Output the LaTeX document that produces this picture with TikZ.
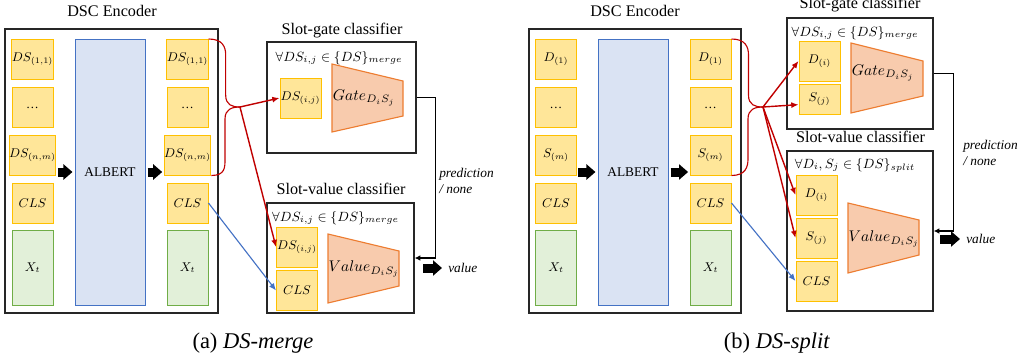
\RequirePackage{fix-cm}
\documentclass[tikz,border=0pt]{standalone}
\usepackage{fontspec}
\setmainfont{Liberation Serif}
\usetikzlibrary{arrows.meta,calc}

\definecolor{tokfill}{HTML}{FFE699}
\definecolor{tokline}{HTML}{FFC000}
\definecolor{xfill}{HTML}{E2F0D9}
\definecolor{xline}{HTML}{70AD47}
\definecolor{bertfill}{HTML}{DAE3F3}
\definecolor{bertline}{HTML}{4472C4}
\definecolor{trapfill}{HTML}{F8CBAD}
\definecolor{trapline}{HTML}{ED7D31}
\definecolor{bracered}{HTML}{C00000}
\definecolor{clsblue}{HTML}{4472C4}

\tikzset{
  tok/.style={draw=tokline, fill=tokfill, line width=0.7pt, minimum width=1.025cm,
    minimum height=1cm, inner sep=0pt, font=\fontsize{9}{10}\selectfont},
  xtok/.style={tok, draw=xline, fill=xfill, minimum height=1.875cm},
  bert/.style={draw=bertline, fill=bertfill, line width=0.6pt, minimum width=1.75cm,
    minimum height=6.65cm, font=\fontsize{9.5}{11}\selectfont},
  panel/.style={draw=black!85, line width=0.9pt, inner sep=0pt},
  headline/.style={anchor=base, inner sep=0pt, font=\fontsize{11.5}{13}\selectfont},
  cond/.style={inner sep=0pt, font=\fontsize{9.5}{11}\selectfont},
  traptxt/.style={inner sep=0pt, font=\fontsize{11}{12}\selectfont},
  trap/.style={draw=trapline, fill=trapfill, line width=0.8pt},
  note/.style={inner sep=0pt, align=left, anchor=west, font=\fontsize{9.5}{11}\selectfont\itshape},
  outtxt/.style={inner sep=0.15cm, anchor=west, font=\fontsize{9.5}{11}\selectfont\itshape},
  subcap/.style={anchor=base, inner sep=0pt, font=\fontsize{16}{18}\selectfont},
  bracepath/.style={draw=bracered, line width=0.8pt},
  redarrow/.style={draw=bracered, line width=1pt, -{Latex[length=1.8mm,width=1.5mm]}},
  bluearrow/.style={draw=clsblue, line width=0.8pt, -{Latex[length=1.8mm,width=1.5mm]}},
  fbline/.style={draw=black, line width=1.1pt, -{Latex[length=1.4mm,width=1.4mm]}},
  blockarrow/.style={draw=black, line width=0.225cm, -{Triangle[length=0.225cm,width=0.375cm]}}
}

\begin{document}
\begin{tikzpicture}[x=0.025cm, y=-0.025cm]
\useasboundingbox (0,0) rectangle (1021,358);

% (a) DS-merge encoder
\node[headline] (encAtitle) at (112,16) {DSC Encoder};
\node[panel, minimum width=5.325cm, minimum height=7.1cm] (encA) at (111.5,171) {};
\node[tok] (lA1) at (32.5,59.5) {$DS_{(1,1)}$};
\node[tok] (lAd) at (32.5,107.5) {\ldots};
\node[tok] (lAnm) at (32.5,155) {$DS_{(n,m)}$};
\node[tok] (lAcls) at (32.5,203) {$CLS$};
\node[xtok] (lAx) at (32.5,267.5) {$X_t$};
\node[bert] (bertA) at (110,172) {ALBERT};
\node[tok] (rA1) at (187.5,59.5) {$DS_{(1,1)}$};
\node[tok] (rAd) at (187.5,107.5) {\ldots};
\node[tok] (rAnm) at (187.5,155) {$DS_{(n,m)}$};
\node[tok] (rAcls) at (187.5,203) {$CLS$};
\node[xtok] (rAx) at (187.5,267.5) {$X_t$};
\draw[blockarrow, shorten <=1pt, shorten >=1.5pt] (lAnm.east |- bertA.west) -- (bertA.west);
\draw[blockarrow, shorten <=1.5pt, shorten >=1pt] (bertA.east) -- (rAnm.west |- bertA.east);

% slot-gate (a)
\node[headline] (gateAtitle) at (342,34) {Slot-gate classifier};
\node[panel, minimum width=3.725cm, minimum height=2.775cm] (gateA) at (341.5,97.5) {};
\node[cond] (gateAcond) at (339,58) {$\forall DS_{i,j}\in\{DS\}_{merge}$};
\node[tok] (gAds) at (300.5,98) {$DS_{(i,j)}$};
\filldraw[trap] (332,64) -- (403,81) -- (403,116) -- (332,132) -- cycle;
\node[traptxt] (gAtxt) at (364,98) {$Gate_{D_iS_j}$};

% slot-value (a)
\node[headline] (valAtitle) at (341,194) {Slot-value classifier};
\node[panel, minimum width=3.675cm, minimum height=2.75cm] (valA) at (340.5,258) {};
\node[cond] (valAcond) at (335.5,218) {$\forall DS_{i,j}\in\{DS\}_{merge}$};
\node[tok] (vAds) at (297,247) {$DS_{(i,j)}$};
\node[tok] (vAcls) at (297,290.5) {$CLS$};
\filldraw[trap] (328,234) -- (399,251) -- (399,286) -- (328,303) -- cycle;
\node[traptxt] (vAtxt) at (364,269) {$Value_{D_iS_j}$};

% brace and links (a)
\coordinate (bA) at (240,107);
\draw[bracepath] (rA1.north east) .. controls +(14,0) and +(0,-8) .. ++(17,16) -- ++(0,40)
  .. controls +(0,10) and +(-8,0) .. (bA);
\draw[bracepath] (bA) .. controls +(-8,0) and +(0,-10) .. ++(-15,12) -- ++(0,40)
  .. controls +(0,8) and +(14,0) .. (rAnm.south east);
\draw[redarrow] (bA) -- (gAds.west);
\draw[redarrow] (bA) -- (vAds.west);
\draw[bluearrow] (rAcls.east) -- (vAcls.west);

\draw[fbline] (gateA.east) -- ++(19,0) |- (valA.east);
\node[note] (predA) at (439,181) {prediction\\/ none};
\coordinate (outA) at (423,268);
\node[outtxt] (valueA) at (442,268) {value};
\draw[blockarrow] (outA) -- (valueA.west);

% (b) DS-split encoder
\node[headline] (encBtitle) at (635,16) {DSC Encoder};
\node[panel, minimum width=5.3cm, minimum height=7.1cm] (encB) at (635,171) {};
\node[tok] (lB1) at (556,59.5) {$D_{(1)}$};
\node[tok] (lBd) at (556,107.5) {\ldots};
\node[tok] (lBm) at (556,155) {$S_{(m)}$};
\node[tok] (lBcls) at (556,203) {$CLS$};
\node[xtok] (lBx) at (556,267.5) {$X_t$};
\node[bert] (bertB) at (633,172) {ALBERT};
\node[tok] (rB1) at (710.5,59.5) {$D_{(1)}$};
\node[tok] (rBd) at (710.5,107.5) {\ldots};
\node[tok] (rBm) at (710.5,155) {$S_{(m)}$};
\node[tok] (rBcls) at (710.5,203) {$CLS$};
\node[xtok] (rBx) at (710.5,267.5) {$X_t$};
\draw[blockarrow, shorten <=1pt, shorten >=1.5pt] (lBm.east |- bertB.west) -- (bertB.west);
\draw[blockarrow, shorten <=1.5pt, shorten >=1pt] (bertB.east) -- (rBm.west |- bertB.east);

% slot-gate (b)
\node[headline] (gateBtitle) at (860,8) {Slot-gate classifier};
\node[panel, minimum width=3.65cm, minimum height=2.775cm] (gateB) at (860,73.5) {};
\node[cond] (gateBcond) at (855,33) {$\forall DS_{i,j}\in\{DS\}_{merge}$};
\node[tok] (gBd) at (819.5,61) {$D_{(i)}$};
\node[tok, minimum height=0.75cm] (gBs) at (819.5,99) {$S_{(j)}$};
\filldraw[trap] (851,43) -- (923,61) -- (923,96) -- (851,113) -- cycle;
\node[traptxt] (gBtxt) at (883,73) {$Gate_{D_iS_j}$};

% slot-value (b)
\node[headline] (valBtitle) at (860.5,142) {Slot-value classifier};
\node[panel, minimum width=3.65cm, minimum height=4cm] (valB) at (860,231) {};
\node[cond] (valBcond) at (855,165) {$\forall D_i,S_j\in\{DS\}_{split}$};
\node[tok] (vBd) at (816.5,195) {$D_{(i)}$};
\node[tok] (vBs) at (816.5,238) {$S_{(j)}$};
\node[tok] (vBcls) at (816.5,281) {$CLS$};
\filldraw[trap] (848,203) -- (919,220) -- (919,255) -- (848,273) -- cycle;
\node[traptxt] (vBtxt) at (884,239) {$Value_{D_iS_j}$};

% brace and links (b)
\coordinate (bB) at (763,107);
\draw[bracepath] (rB1.north east) .. controls +(14,0) and +(0,-8) .. ++(17,16) -- ++(0,40)
  .. controls +(0,10) and +(-8,0) .. (bB);
\draw[bracepath] (bB) .. controls +(-8,0) and +(0,-10) .. ++(-15,12) -- ++(0,40)
  .. controls +(0,8) and +(14,0) .. (rBm.south east);
\draw[redarrow] (bB) -- (gBd.west);
\draw[redarrow] (bB) -- (gBs.195);
\draw[redarrow] (bB) -- (vBd.west);
\draw[redarrow] (bB) -- (vBs.west);
\draw[bluearrow] (rBcls.east) -- (vBcls.west);

\draw[fbline] (gateB.east) -- ++(20,0) |- (valB.east);
\node[note] (predB) at (963,153) {prediction\\/ none};
\coordinate (outB) at (940,239);
\node[outtxt] (valueB) at (960,239) {value};
\draw[blockarrow] (outB) -- (valueB.west);

% captions
\node[subcap] (capA) at (253,348) {(a)\ \textit{DS-merge}};
\node[subcap] (capB) at (777,348) {(b)\ \textit{DS-split}};

\end{tikzpicture}
\end{document}
